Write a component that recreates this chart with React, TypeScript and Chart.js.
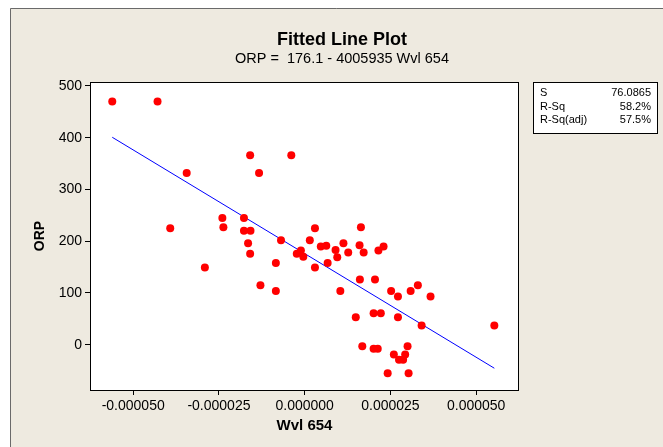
import React, { useEffect, useRef } from "react";
import { Chart, registerables } from "chart.js";

Chart.register(...registerables);

// Wvl 654 values
const wvl: number[] = [
  -56.1e-6, -42.9e-6, -34.4e-6, -15.9e-6, -13.3e-6, -3.9e-6, -39.2e-6, -24.0e-6,
  -23.7e-6, -17.7e-6, -17.7e-6, -15.8e-6, -16.5e-6, -15.9e-6, -6.9e-6, -29.1e-6,
  -12.9e-6, -8.4e-6, -8.4e-6, -2.3e-6, -1.1e-6, -0.4e-6, 1.5e-6, 3.0e-6,
  16.4e-6, 4.7e-6, 6.3e-6, 11.3e-6, 9.0e-6, 9.5e-6, 12.7e-6, 16.0e-6,
  17.2e-6, 21.5e-6, 23.0e-6, 3.0e-6, 6.7e-6, 10.4e-6, 16.1e-6, 20.5e-6,
  25.2e-6, 27.2e-6, 30.9e-6, 33.0e-6, 36.7e-6, 14.9e-6, 20.1e-6, 22.2e-6,
  27.2e-6, 34.1e-6, 55.3e-6, 16.8e-6, 20.1e-6, 21.3e-6, 30.0e-6, 26.0e-6,
  29.3e-6, 27.5e-6, 28.7e-6, 24.2e-6, 30.3e-6,
];
// ORP values
const orp: number[] = [
  470, 470, 332, 366, 332, 366, 225, 245,
  227, 245, 220, 220, 196, 176, 202, 149,
  115, 158, 104, 176, 182, 170, 202, 225,
  227, 190, 191, 196, 183, 169, 178, 192,
  178, 182, 190, 149, 158, 104, 126, 126,
  104, 93, 104, 115, 93, 53, 61, 61,
  53, 37, 37, -3, -8, -8, -3, -19,
  -19, -29, -29, -55, -55,
];

// Fitted line: ORP = 176.1 - 4005935 * Wvl 654
const intercept = 176.1;
const slope = -4005935;

const xTicks: number[] = [-0.00005, -0.000025, 0, 0.000025, 0.00005];
const xTickLabels: string[] = ["-0.000050", "-0.000025", "0.000000", "0.000025", "0.000050"];
const yTicks: number[] = [0, 100, 200, 300, 400, 500];

const statLabels: string[] = ["S", "R-Sq", "R-Sq(adj)"];
const statValues: string[] = ["76.0865", "58.2%", "57.5%"];

const titleText = "Fitted Line Plot";
const subtitleText = "ORP =  176.1 - 4005935 Wvl 654";
const xTitle = "Wvl 654";
const yTitle = "ORP";

const FONT = "'Liberation Sans', Arial, sans-serif";

export default function App() {
  const ref = useRef<HTMLCanvasElement | null>(null);

  useEffect(() => {
    document.body.style.margin = "0";
    const canvas = ref.current;
    if (!canvas) return;

    const xMin = Math.min(...wvl);
    const xMax = Math.max(...wvl);
    const fitLine = [
      { x: xMin, y: intercept + slope * xMin },
      { x: xMax, y: intercept + slope * xMax },
    ];

    const decor = {
      id: "decor",
      beforeDraw(chart: any) {
        const ctx = chart.ctx;
        const { left, top, right, bottom } = chart.chartArea;
        ctx.save();
        ctx.fillStyle = "#ffffff";
        ctx.fillRect(0, 0, chart.width, chart.height);
        ctx.fillStyle = "#eeeae0";
        ctx.fillRect(10, 8, chart.width - 10, chart.height - 8);
        ctx.strokeStyle = "#6a6a6a";
        ctx.lineWidth = 1;
        ctx.beginPath();
        ctx.moveTo(10.5, chart.height);
        ctx.lineTo(10.5, 8.5);
        ctx.lineTo(chart.width, 8.5);
        ctx.stroke();
        ctx.fillStyle = "#ffffff";
        ctx.fillRect(left, top, right - left, bottom - top);
        ctx.restore();
      },
      afterDraw(chart: any) {
        const ctx = chart.ctx;
        const { left, top, right, bottom } = chart.chartArea;
        ctx.save();
        ctx.strokeStyle = "#000000";
        ctx.lineWidth = 1;
        ctx.strokeRect(Math.round(left) - 0.5, Math.round(top) - 0.5, Math.round(right - left) + 1, Math.round(bottom - top) + 1);

        ctx.fillStyle = "#000000";
        ctx.textAlign = "center";
        ctx.textBaseline = "middle";
        ctx.font = `bold 18px ${FONT}`;
        ctx.fillText(titleText, 342, 40);
        ctx.font = `14.5px ${FONT}`;
        ctx.fillText(subtitleText, 342, 59);

        ctx.font = `bold 15px ${FONT}`;
        ctx.fillText(xTitle, (left + right) / 2, 426);
        ctx.font = `bold 14px ${FONT}`;
        ctx.save();
        ctx.translate(40, 236);
        ctx.rotate(-Math.PI / 2);
        ctx.fillText(yTitle, 0, 0);
        ctx.restore();

        // stats box
        const bx = 533.5, by = 82.5, bw = 124, bh = 51;
        ctx.fillStyle = "#ffffff";
        ctx.fillRect(bx, by, bw, bh);
        ctx.strokeStyle = "#000000";
        ctx.strokeRect(bx, by, bw, bh);
        ctx.fillStyle = "#000000";
        ctx.font = `11px ${FONT}`;
        for (let i = 0; i < statLabels.length; i++) {
          const yy = 93 + i * 13.5;
          ctx.textAlign = "left";
          ctx.fillText(statLabels[i], 540, yy);
          ctx.textAlign = "right";
          ctx.fillText(statValues[i], 651, yy);
        }
        ctx.restore();
      },
    };

    const chart = new Chart(canvas, {
      type: "scatter",
      data: {
        datasets: [
          {
            label: "ORP",
            data: wvl.map((x, i) => ({ x, y: orp[i] })),
            backgroundColor: "#ff0000",
            borderColor: "#ff0000",
            pointRadius: 4,
            pointBorderWidth: 0,
          },
          {
            label: "Fit",
            data: fitLine,
            showLine: true,
            borderColor: "#0000ff",
            borderWidth: 1,
            pointRadius: 0,
            fill: false,
          },
        ],
      },
      options: {
        responsive: false,
        animation: false,
        events: [],
        layout: { padding: { left: 51, right: 145, top: 83, bottom: 27 } },
        plugins: {
          legend: { display: false },
          title: { display: false },
          tooltip: { enabled: false },
        },
        scales: {
          x: {
            type: "linear",
            min: -62.3e-6,
            max: 62.2e-6,
            afterFit: (s: any) => { s.height = 30; },
            afterBuildTicks: (s: any) => { s.ticks = xTicks.map((v) => ({ value: v })); },
            border: { display: false },
            grid: { drawOnChartArea: false, drawTicks: true, tickLength: 5, color: "#000000", tickColor: "#000000" },
            ticks: {
              color: "#000000",
              font: { family: FONT, size: 14 },
              padding: 3,
              maxRotation: 0,
              autoSkip: false,
              callback: (_v: any, i: number) => xTickLabels[i],
            },
          },
          y: {
            type: "linear",
            min: -87.5,
            max: 505.7,
            afterFit: (s: any) => { s.width = 40; },
            afterBuildTicks: (s: any) => { s.ticks = yTicks.map((v) => ({ value: v })); },
            border: { display: false },
            grid: { drawOnChartArea: false, drawTicks: true, tickLength: 6, color: "#000000", tickColor: "#000000" },
            ticks: {
              color: "#000000",
              font: { family: FONT, size: 14 },
              padding: 3,
              autoSkip: false,
              callback: (v: any) => String(v),
            },
          },
        },
      },
      plugins: [decor],
    } as any);

    return () => chart.destroy();
  }, []);

  return (
    <div style={{ width: 663, height: 447 }}>
      <canvas ref={ref} width={663} height={447} style={{ display: "block" }} />
    </div>
  );
}
